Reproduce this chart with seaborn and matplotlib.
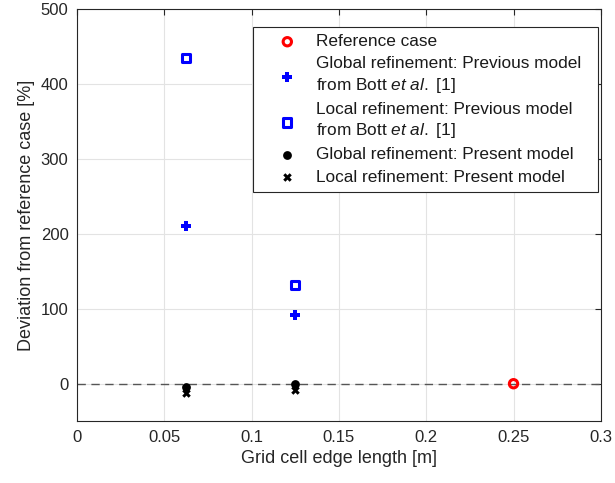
import matplotlib
matplotlib.use("Agg")
import matplotlib.pyplot as plt
import seaborn as sns
import pandas as pd

sns.set_theme(style="whitegrid")
plt.rcParams["font.family"] = ["Liberation Sans", "DejaVu Sans"]
plt.rcParams["mathtext.fontset"] = "custom"
plt.rcParams["mathtext.it"] = "Liberation Sans:italic"
plt.rcParams["mathtext.rm"] = "Liberation Sans"

# Deviation from the reference case [%] against grid cell edge length [m]
ref_x = [0.25]
ref_y = [0.0]
global_prev_x = [0.0625, 0.125]
global_prev_y = [211.0, 92.0]
local_prev_x = [0.0625, 0.125]
local_prev_y = [435.0, 132.0]
global_present_x = [0.0625, 0.125]
global_present_y = [-5.0, -1.0]
local_present_x = [0.0625, 0.125]
local_present_y = [-13.0, -8.0]

labels = [
    "Reference case",
    "Global refinement: Previous model  \nfrom Bott $\\it{et\\ al.}$ [1]",
    "Local refinement: Previous model\nfrom Bott $\\it{et\\ al.}$ [1]",
    "Global refinement: Present model",
    "Local refinement: Present model",
]

fig = plt.figure(figsize=(6.15, 4.83), dpi=100)
ax = fig.add_axes([0.125, 0.128, 0.852, 0.853])

ax.axhline(0, color="#555555", lw=1.0, ls=(0, (6, 4)), zorder=1)

series = [
    (ref_x, ref_y, dict(marker="o", s=36, facecolors="none", edgecolors="red", linewidths=2.2)),
    (global_prev_x, global_prev_y, dict(marker="P", s=42, color="blue", linewidths=0)),
    (local_prev_x, local_prev_y, dict(marker="s", s=34, facecolors="none", edgecolors="blue", linewidths=2.2)),
    (global_present_x, global_present_y, dict(marker="o", s=40, color="black", linewidths=0)),
    (local_present_x, local_present_y, dict(marker="X", s=38, color="black", linewidths=0)),
]
for (xs, ys, kw), lab in zip(series, labels):
    df = pd.DataFrame({"x": xs, "y": ys})
    sns.scatterplot(data=df, x="x", y="y", ax=ax, label=lab, zorder=3, **kw)

ax.set_xlim(0, 0.3)
ax.set_ylim(-50, 500)
ax.set_xticks([0, 0.05, 0.1, 0.15, 0.2, 0.25, 0.3])
ax.set_xticklabels(["0", "0.05", "0.1", "0.15", "0.2", "0.25", "0.3"])
ax.set_yticks([0, 100, 200, 300, 400, 500])
ax.set_xlabel("Grid cell edge length [m]", fontsize=13, color="#262626")
ax.set_ylabel("Deviation from reference case [%]", fontsize=13, color="#262626")
ax.tick_params(axis="both", labelsize=12, colors="#262626", direction="in",
               length=4, width=0.8, top=True, right=True, pad=6)
ax.grid(True, color="#e3e3e3", lw=0.8)
ax.set_facecolor("white")
for sp in ax.spines.values():
    sp.set_color("#262626")
    sp.set_linewidth(0.8)

leg = ax.legend(loc="upper right", bbox_to_anchor=(0.994, 0.956), fontsize=12.4,
                frameon=True, fancybox=False, edgecolor="#262626",
                handletextpad=0.07, borderpad=0.4, labelspacing=0.42,
                handlelength=3.2, borderaxespad=0)
leg.get_frame().set_linewidth(0.8)
leg.get_frame().set_alpha(1)
for t in leg.get_texts():
    t.set_color("#1a1a1a")
    t.set_linespacing(1.3)

fig.savefig("out.png", dpi=100, facecolor="white")
